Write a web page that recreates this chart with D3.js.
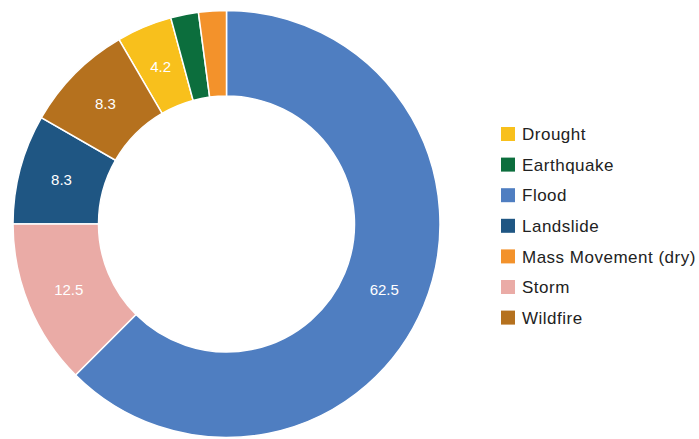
<!DOCTYPE html>
<html lang="en">
<head>
    <meta charset="UTF-8">
    <title>Disaster Types Donut</title>
    <script src="https://d3js.org/d3.v7.min.js"></script>
    <style>
        body { margin: 0; background: #fff; }
        svg { display: block; font-family: "Liberation Sans", Arial, sans-serif; }
    </style>
    <script>
        const categories = ["Drought", "Earthquake", "Flood", "Landslide", "Mass Movement (dry)", "Storm", "Wildfire"];
        const shares = [4.2, 2.1, 62.5, 8.3, 2.1, 12.5, 8.3];
        const colors = ["#f8c01c", "#0c6e3d", "#4f7ec1", "#1f5683", "#f3922b", "#eaaba6", "#b5711e"];

        document.addEventListener("DOMContentLoaded", function() {
            donut();
        });

        function donut() {
            const width = 699;
            const height = 439;
            const cx = 226.5, cy = 224;
            const outer = 213.5, inner = 128;

            const svg = d3.select("svg").attr("width", width).attr("height", height);

            const data = categories.map((c, i) => ({ name: c, value: shares[i], color: colors[i] }));

            // default sort = descending by value, ties keep alphabetical order
            const pie = d3.pie().value(d => d.value);
            const arc = d3.arc().innerRadius(inner).outerRadius(outer);

            const g = svg.append("g").attr("transform", "translate(" + cx + "," + cy + ")");

            const arcs = pie(data);

            g.selectAll("path")
                .data(arcs)
                .join("path")
                .attr("d", arc)
                .attr("fill", d => d.data.color)
                .attr("stroke", "#fff")
                .attr("stroke-width", 1.5);

            g.selectAll("text")
                .data(arcs.filter(d => d.endAngle - d.startAngle > 0.2))
                .join("text")
                .attr("transform", d => "translate(" + arc.centroid(d) + ")")
                .attr("text-anchor", "middle")
                .attr("dy", "0.35em")
                .attr("fill", "#fff")
                .style("font-size", "15px")
                .text(d => d.data.value.toFixed(1));

            const legend = svg.append("g").attr("transform", "translate(501,134)");
            const rows = legend.selectAll("g")
                .data(data)
                .join("g")
                .attr("transform", (d, i) => "translate(0," + (i * 30.6) + ")");

            rows.append("rect")
                .attr("x", 0).attr("y", -7)
                .attr("width", 14).attr("height", 14)
                .attr("fill", d => d.color);

            rows.append("text")
                .attr("x", 21)
                .attr("dy", "0.36em")
                .attr("fill", "#222")
                .style("font-size", "17px")
                .style("letter-spacing", "0.5px")
                .text(d => d.name);
        }
    </script>
</head>
<body>
    <svg id="chart"></svg>
</body>
</html>
